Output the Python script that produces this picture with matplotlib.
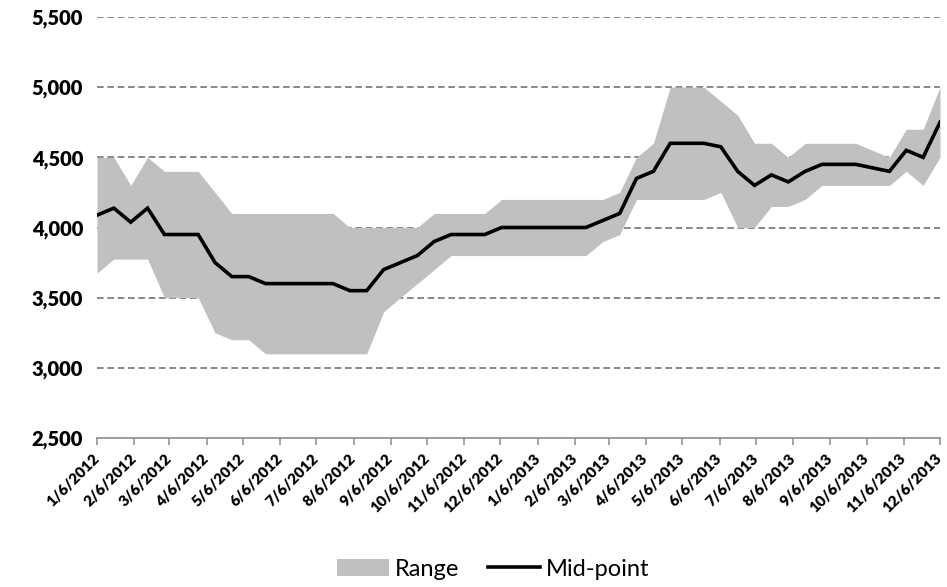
import matplotlib
matplotlib.use("Agg")
import matplotlib.pyplot as plt
from matplotlib.patches import Patch
from matplotlib.lines import Line2D
import pandas as pd

# Fortnightly observations, 6 Jan 2012 to 6 Dec 2013
start_date = "2012-01-06"
n_points = 51

range_low = [3675, 3775, 3775, 3775, 3500, 3500, 3500, 3250, 3200, 3200,
             3100, 3100, 3100, 3100, 3100, 3100, 3100, 3400, 3500, 3600,
             3700, 3800, 3800, 3800, 3800, 3800, 3800, 3800, 3800, 3800,
             3900, 3950, 4200, 4200, 4200, 4200, 4200, 4250, 4000, 4000,
             4150, 4150, 4200, 4300, 4300, 4300, 4300, 4300, 4400, 4300,
             4500]
range_high = [4500, 4500, 4300, 4500, 4400, 4400, 4400, 4250, 4100, 4100,
              4100, 4100, 4100, 4100, 4100, 4000, 4000, 4000, 4000, 4000,
              4100, 4100, 4100, 4100, 4200, 4200, 4200, 4200, 4200, 4200,
              4200, 4250, 4500, 4600, 5000, 5000, 5000, 4900, 4800, 4600,
              4600, 4500, 4600, 4600, 4600, 4600, 4550, 4500, 4700, 4700,
              5000]
mid_point = [4088, 4138, 4038, 4138, 3950, 3950, 3950, 3750, 3650, 3650,
             3600, 3600, 3600, 3600, 3600, 3550, 3550, 3700, 3750, 3800,
             3900, 3950, 3950, 3950, 4000, 4000, 4000, 4000, 4000, 4000,
             4050, 4100, 4350, 4400, 4600, 4600, 4600, 4575, 4400, 4300,
             4375, 4325, 4400, 4450, 4450, 4450, 4425, 4400, 4550, 4500,
             4750]

tick_labels = ["1/6/2012", "2/6/2012", "3/6/2012", "4/6/2012", "5/6/2012",
               "6/6/2012", "7/6/2012", "8/6/2012", "9/6/2012", "10/6/2012",
               "11/6/2012", "12/6/2012", "1/6/2013", "2/6/2013", "3/6/2013",
               "4/6/2013", "5/6/2013", "6/6/2013", "7/6/2013", "8/6/2013",
               "9/6/2013", "10/6/2013", "11/6/2013", "12/6/2013"]
y_ticks = [2500, 3000, 3500, 4000, 4500, 5000, 5500]

dates = pd.date_range(start_date, periods=n_points, freq="14D")
tick_dates = [pd.to_datetime(t, format="%m/%d/%Y") for t in tick_labels]

plt.rcParams["font.family"] = ["Lato", "DejaVu Sans"]

fig = plt.figure(figsize=(9.47, 5.87), dpi=100)
ax = fig.add_axes([97 / 947, 1 - 438 / 587, (940 - 97) / 947, (438 - 17) / 587])

ax.fill_between(dates, range_low, range_high, color="#C0C0C0", linewidth=0,
                zorder=2)
ax.plot(dates, mid_point, color="black", linewidth=2.6, zorder=3,
        solid_joinstyle="miter")

ax.set_xlim(dates[0], dates[-1])
ax.set_ylim(y_ticks[0], y_ticks[-1])

# dashed horizontal gridlines
for v in y_ticks[1:]:
    ax.axhline(v, color="#767676", linewidth=1.2, linestyle=(0, (4, 2.2)),
               zorder=1)

for side in ["left", "right", "top"]:
    ax.spines[side].set_visible(False)
ax.spines["bottom"].set_color("#8C8C8C")
ax.spines["bottom"].set_linewidth(1.2)
ax.spines["bottom"].set_zorder(4)

ax.set_yticks(y_ticks)
ax.set_yticklabels([f"{v:,}" for v in y_ticks], fontsize=14.5,
                   fontweight="heavy")
ax.tick_params(axis="y", length=0, pad=10)

ax.set_xticks(tick_dates)
ax.set_xticklabels(tick_labels, rotation=45, ha="right", va="center",
                   rotation_mode="anchor", fontsize=11, fontweight="heavy")
ax.tick_params(axis="x", direction="out", length=5, width=1.1,
               color="#8C8C8C", pad=8)

handles = [Patch(facecolor="#C0C0C0", edgecolor="none", label="Range"),
           Line2D([0], [0], color="black", linewidth=2.6, label="Mid-point")]
fig.legend(handles=handles, loc="center",
           bbox_to_anchor=(493 / 947, 1 - 569 / 587),
           ncol=2, frameon=False, fontsize=17, handlelength=2.2,
           handleheight=0.7, handletextpad=0.25, columnspacing=1.2)

fig.savefig("out.png", dpi=100)
